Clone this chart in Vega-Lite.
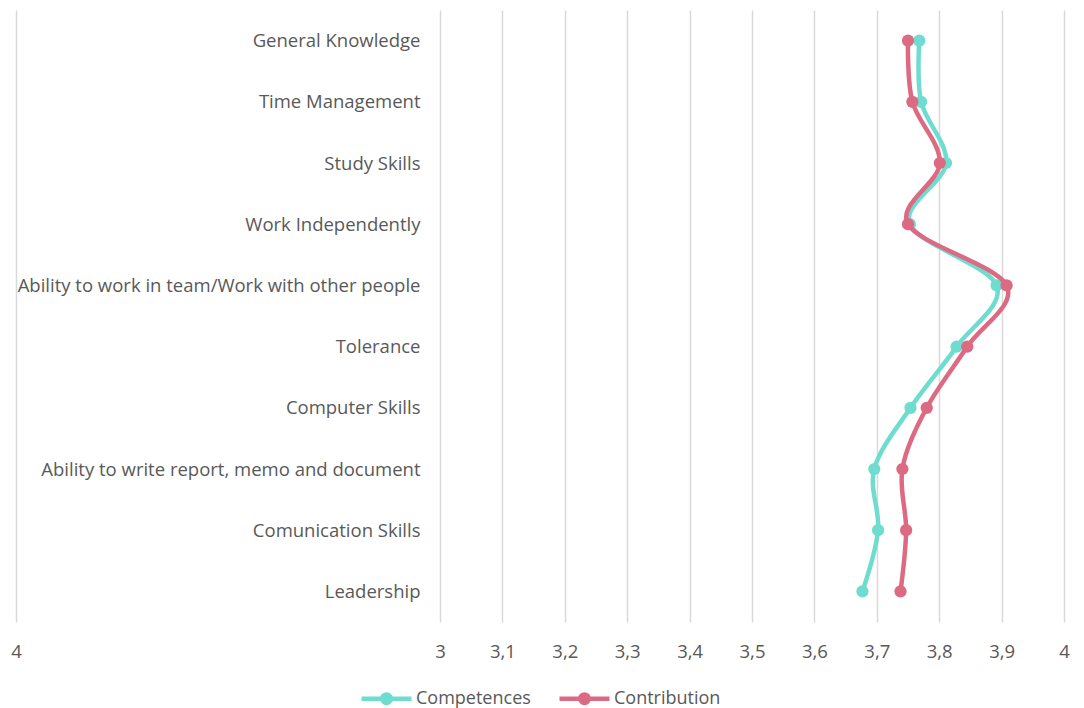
{
  "$schema": "https://vega.github.io/schema/vega-lite/v6.json",
  "width": 1048,
  "height": 612,
  "autosize": {"type": "none"},
  "padding": {"left": 16, "top": 10, "right": 20, "bottom": 86},
  "background": "white",
  "config": {
    "view": {"stroke": null},
    "font": "Open Sans",
    "legend": {"layout": {"bottom": {"anchor": "middle"}}}
  },
  "data": {
    "values": [
      {"idx": 1, "skill": "General Knowledge", "series": "Competences", "score": 3.768},
      {"idx": 2, "skill": "Time Management", "series": "Competences", "score": 3.771},
      {"idx": 3, "skill": "Study Skills", "series": "Competences", "score": 3.811},
      {"idx": 4, "skill": "Work Independently", "series": "Competences", "score": 3.753},
      {"idx": 5, "skill": "Ability to work in team/Work with other people", "series": "Competences", "score": 3.892},
      {"idx": 6, "skill": "Tolerance", "series": "Competences", "score": 3.828},
      {"idx": 7, "skill": "Computer Skills", "series": "Competences", "score": 3.754},
      {"idx": 8, "skill": "Ability to write report, memo and document", "series": "Competences", "score": 3.696},
      {"idx": 9, "skill": "Comunication Skills", "series": "Competences", "score": 3.702},
      {"idx": 10, "skill": "Leadership", "series": "Competences", "score": 3.677},
      {"idx": 1, "skill": "General Knowledge", "series": "Contribution", "score": 3.750},
      {"idx": 2, "skill": "Time Management", "series": "Contribution", "score": 3.757},
      {"idx": 3, "skill": "Study Skills", "series": "Contribution", "score": 3.801},
      {"idx": 4, "skill": "Work Independently", "series": "Contribution", "score": 3.750},
      {"idx": 5, "skill": "Ability to work in team/Work with other people", "series": "Contribution", "score": 3.908},
      {"idx": 6, "skill": "Tolerance", "series": "Contribution", "score": 3.845},
      {"idx": 7, "skill": "Computer Skills", "series": "Contribution", "score": 3.780},
      {"idx": 8, "skill": "Ability to write report, memo and document", "series": "Contribution", "score": 3.741},
      {"idx": 9, "skill": "Comunication Skills", "series": "Contribution", "score": 3.747},
      {"idx": 10, "skill": "Leadership", "series": "Contribution", "score": 3.738}
    ]
  },
  "encoding": {
    "y": {
      "field": "skill",
      "type": "nominal",
      "sort": null,
      "scale": {"type": "point", "padding": 0.5},
      "axis": {
        "title": null,
        "domain": false,
        "ticks": false,
        "grid": false,
        "labelPadding": -404,
        "labelLimit": 600,
        "labelFontSize": 18.5,
        "labelColor": "#595959",
        "labelFont": "Open Sans"
      }
    },
    "x": {
      "field": "score",
      "type": "quantitative",
      "scale": {"domain": [2.3205, 4], "zero": false, "nice": false},
      "axis": {
        "title": null,
        "values": [2.3205, 3, 3.1, 3.2, 3.3, 3.4, 3.5, 3.6, 3.7, 3.8, 3.9, 4],
        "labelExpr": "datum.value < 2.5 ? '4' : replace(format(datum.value, '.1~f'), '.', ',')",
        "grid": true,
        "gridColor": "#D9D9D9",
        "gridWidth": 1.5,
        "domain": false,
        "ticks": false,
        "labelPadding": 20,
        "labelFontSize": 18.5,
        "labelColor": "#595959",
        "labelFont": "Open Sans",
        "labelOverlap": false,
        "labelFlush": false
      }
    },
    "color": {
      "field": "series",
      "type": "nominal",
      "scale": {"domain": ["Competences", "Contribution"], "range": ["#6FDCD0", "#DC6A83"]},
      "legend": {
        "title": null,
        "orient": "bottom",
        "direction": "horizontal",
        "offset": 10,
        "symbolType": "M-1,0L1,0M0.17,0A0.17,0.17,0,1,1,-0.17,0A0.17,0.17,0,1,1,0.17,0Z",
        "symbolSize": 2500,
        "symbolStrokeWidth": 4.5,
        "symbolOpacity": 1,
        "labelFontSize": 18,
        "labelColor": "#595959",
        "labelFont": "Open Sans",
        "labelOffset": 2,
        "columnPadding": 19
      }
    },
    "order": {"field": "idx", "type": "quantitative"}
  },
  "layer": [
    {
      "transform": [{"filter": "datum.series === 'Competences'"}],
      "mark": {"type": "line", "interpolate": "cardinal", "strokeWidth": 4.5}
    },
    {
      "transform": [{"filter": "datum.series === 'Competences'"}],
      "mark": {"type": "point", "filled": true, "size": 150, "opacity": 1}
    },
    {
      "transform": [{"filter": "datum.series === 'Contribution'"}],
      "mark": {"type": "line", "interpolate": "cardinal", "strokeWidth": 4.5}
    },
    {
      "transform": [{"filter": "datum.series === 'Contribution'"}],
      "mark": {"type": "point", "filled": true, "size": 150, "opacity": 1}
    }
  ]
}
